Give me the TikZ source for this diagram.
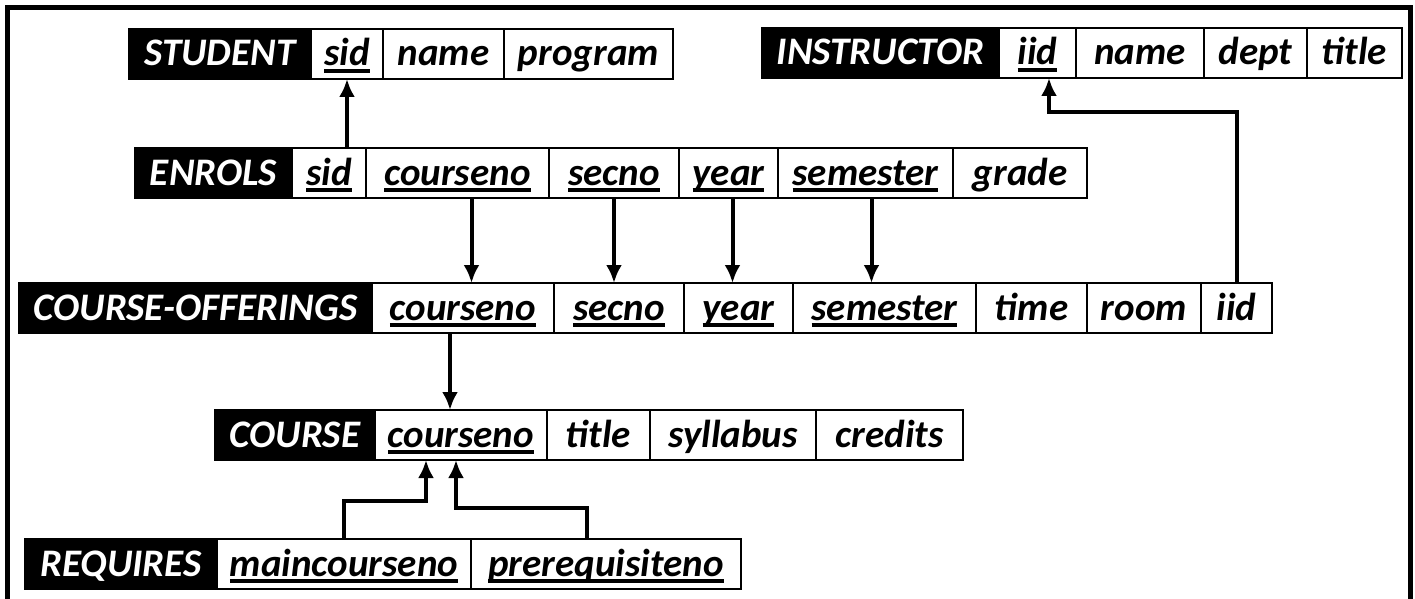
\documentclass[tikz,border=0pt]{standalone}
\usepackage{fontspec}
\setmainfont{Carlito}
\usetikzlibrary{arrows.meta}

% chiave primaria: testo sottolineato con riga spessa
\newcommand{\pkey}[1]{\setbox0\hbox{#1}\rlap{\rule[-3.6pt]{\wd0}{1.9pt}}\box0}

\tikzset{
    cell/.style={draw=black, line width=1.1pt, inner sep=0pt, outer sep=0pt,
        minimum height=25pt, anchor=west, text height=15pt, text depth=3pt,
        font=\fontsize{19.5}{22}\selectfont\bfseries\itshape},
    relname/.style={cell, fill=black, text=white},
    fk/.style={line width=2pt, -{Latex[length=9pt,width=8pt]}}
}

\begin{document}
\begin{tikzpicture}[x=0.5pt, y=-0.5pt]

    \useasboundingbox (0,0) rectangle (1415,599);

    % --- CORNICE ---
    \draw[line width=2.5pt] (7.5,599) -- (7.5,7.5) -- (1410,7.5) -- (1410,599);

    % --- STUDENT ---
    \node[relname, minimum width=91pt] (stu) at (129,54) {STUDENT};
    \foreach \n/\x/\w/\t in {sid/311/36pt/{\pkey{sid}}, name/383/60.5pt/name, program/504/84.5pt/program} {
        \node[cell, minimum width=\w] (stu-\n) at (\x,54) {\t};
    }

    % --- INSTRUCTOR ---
    \node[relname, minimum width=118.5pt] (ins) at (762,53) {INSTRUCTOR};
    \foreach \n/\x/\w/\t in {iid/999/38.5pt/{\pkey{iid}}, name/1076/64pt/name, dept/1204/51.5pt/dept, title/1307/47.5pt/title} {
        \node[cell, minimum width=\w] (ins-\n) at (\x,53) {\t};
    }

    % --- ENROLS ---
    \node[relname, minimum width=78.5pt] (enr) at (135,173) {ENROLS};
    \foreach \n/\x/\w/\t in {sid/292/37pt/{\pkey{sid}}, courseno/366/91.5pt/{\pkey{courseno}},
                             secno/549/65pt/{\pkey{secno}}, year/679/49.5pt/{\pkey{year}},
                             semester/778/87.5pt/{\pkey{semester}}, grade/953/67pt/grade} {
        \node[cell, minimum width=\w] (enr-\n) at (\x,173) {\t};
    }

    % --- COURSE-OFFERINGS ---
    \node[relname, minimum width=176.5pt] (co) at (19,308) {COURSE-OFFERINGS};
    \foreach \n/\x/\w/\t in {courseno/372/91pt/{\pkey{courseno}}, secno/554/65pt/{\pkey{secno}},
                             year/684/54.5pt/{\pkey{year}}, semester/793/91.5pt/{\pkey{semester}},
                             time/976/55.5pt/time, room/1087/57pt/room, iid/1201/35.5pt/iid} {
        \node[cell, minimum width=\w] (co-\n) at (\x,308) {\t};
    }

    % --- COURSE ---
    \node[relname, minimum width=80pt] (crs) at (215,435) {COURSE};
    \foreach \n/\x/\w/\t in {courseno/375/86pt/{\pkey{courseno}}, title/547/51.5pt/title,
                             syllabus/650/83pt/syllabus, credits/816/73.5pt/credits} {
        \node[cell, minimum width=\w] (crs-\n) at (\x,435) {\t};
    }

    % --- REQUIRES ---
    \node[relname, minimum width=96pt] (req) at (25,564) {REQUIRES};
    \foreach \n/\x/\w/\t in {main/217/127pt/{\pkey{maincourseno}}, prereq/471/135pt/{\pkey{prerequisiteno}}} {
        \node[cell, minimum width=\w] (req-\n) at (\x,564) {\t};
    }

    % --- CHIAVI ESTERNE ---
    \draw[fk] (enr-sid.north -| stu-sid.south) -- (stu-sid.south);

    \draw[fk] ([xshift=7pt]enr-courseno.south) -- ([xshift=7pt]enr-courseno.south |- co-courseno.north);
    \draw[fk] (enr-secno.south) -- (enr-secno.south |- co-secno.north);
    \draw[fk] ([xshift=2pt]enr-year.south) -- ([xshift=2pt]enr-year.south |- co-year.north);
    \draw[fk] ([xshift=3pt]enr-semester.south) -- ([xshift=3pt]enr-semester.south |- co-semester.north);

    \draw[fk] ([xshift=-6.5pt]co-courseno.south) -- ([xshift=-6.5pt]co-courseno.south |- crs-courseno.north);
    \draw[fk] (co-iid.north) -- ++(0,-171) -| ([xshift=5.75pt]ins-iid.south);

    \draw[fk] (req-main.north) -- ++(0,-38) -| ([xshift=-17.5pt]crs-courseno.south);
    \draw[fk] ([xshift=-9.5pt]req-prereq.north) -- ++(0,-31) -| ([xshift=-2.5pt]crs-courseno.south);

\end{tikzpicture}
\end{document}
